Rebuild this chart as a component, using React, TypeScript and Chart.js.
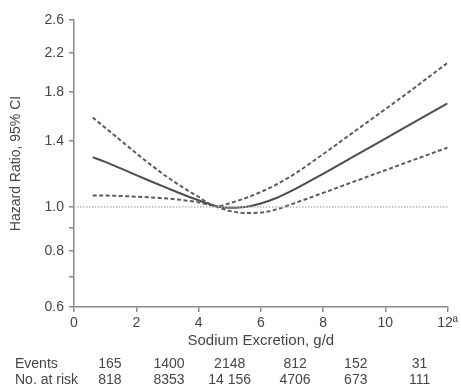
import React, { useEffect, useRef } from "react";
import { Chart, registerables } from "chart.js";

Chart.register(...registerables);

const curveX = [0.6, 1, 1.5, 2, 2.5, 3, 3.5, 4, 4.6, 5, 5.5, 6, 6.5, 7, 8, 9, 10, 11, 12];
const hazardRatio = [1.29, 1.259, 1.218, 1.177, 1.138, 1.101, 1.066, 1.035, 1.003, 0.996, 1.0, 1.018, 1.047, 1.087, 1.185, 1.297, 1.419, 1.553, 1.699];
const upperCI = [1.58, 1.5, 1.405, 1.316, 1.236, 1.165, 1.105, 1.053, 1.003, 1.02, 1.046, 1.08, 1.122, 1.174, 1.31, 1.47, 1.649, 1.853, 2.09];
const lowerCI = [1.06, 1.06, 1.058, 1.054, 1.05, 1.044, 1.036, 1.024, 1.0, 0.98, 0.97, 0.972, 0.988, 1.015, 1.075, 1.139, 1.207, 1.279, 1.355];
const referenceX = [0, 12];
const referenceY = [1, 1];

const yTickValues = [0.6, 0.7, 0.8, 0.9, 1.0, 1.4, 1.8, 2.2, 2.6];
const yTickLabels = ["0.6", "", "0.8", "", "1.0", "1.4", "1.8", "2.2", "2.6"];
const xTickValues = [0, 2, 4, 6, 8, 10, 12];
const xTickLabels = ["0", "2", "4", "6", "8", "10", "12\u00AA"];

const tableColumnX = [1.15, 3.05, 5.0, 7.1, 9.05, 11.1];
const eventsRow = ["165", "1400", "2148", "812", "152", "31"];
const atRiskRow = ["818", "8353", "14 156", "4706", "673", "111"];
const rowLabels = ["Events", "No. at risk"];

const FONT = "'Liberation Sans', Arial, Helvetica, sans-serif";
const TEXT = "#464646";
const AXIS = "#8a8a8a";

const pts = (xs: number[], ys: number[]) => xs.map((x, i) => ({ x, y: ys[i] }));

export default function App() {
  const ref = useRef<HTMLCanvasElement | null>(null);
  useEffect(() => {
    document.body.style.margin = "0";
    const canvas = ref.current!;
    const tablePlugin = {
      id: "riskTable",
      afterDraw(chart: any) {
        const ctx = chart.ctx;
        const xs = chart.scales.x;
        ctx.save();
        ctx.font = `14px ${FONT}`;
        ctx.fillStyle = TEXT;
        ctx.textBaseline = "middle";
        ctx.textAlign = "left";
        ctx.fillText(rowLabels[0], 15, 364);
        ctx.fillText(rowLabels[1], 15, 380);
        ctx.textAlign = "center";
        tableColumnX.forEach((v, i) => {
          const px = xs.getPixelForValue(v);
          ctx.fillText(eventsRow[i], px, 364);
          ctx.fillText(atRiskRow[i], px, 380);
        });
        ctx.restore();
      },
    };
    const chart = new Chart(canvas, {
      type: "line",
      data: {
        datasets: [
          {
            data: pts(referenceX, referenceY),
            borderColor: "#b8b8b8",
            borderWidth: 1.5,
            borderDash: [1.5, 1.5],
            pointRadius: 0,
          },
          {
            data: pts(curveX, upperCI),
            borderColor: "#5c5c5c",
            borderWidth: 2,
            borderDash: [4, 2.5],
            pointRadius: 0,
            cubicInterpolationMode: "monotone",
          },
          {
            data: pts(curveX, lowerCI),
            borderColor: "#5c5c5c",
            borderWidth: 2,
            borderDash: [4, 2.5],
            pointRadius: 0,
            cubicInterpolationMode: "monotone",
          },
          {
            data: pts(curveX, hazardRatio),
            borderColor: "#4d4d4d",
            borderWidth: 2,
            pointRadius: 0,
            cubicInterpolationMode: "monotone",
          },
        ],
      },
      options: {
        animation: false,
        responsive: false,
        devicePixelRatio: 1,
        layout: { padding: { left: 0, top: 20, right: 11, bottom: 37 } },
        plugins: { legend: { display: false }, tooltip: { enabled: false } },
        scales: {
          x: {
            type: "linear",
            min: 0,
            max: 12,
            afterFit: (s: any) => {
              s.height = 43;
            },
            afterBuildTicks: (s: any) => {
              s.ticks = xTickValues.map((v) => ({ value: v }));
            },
            ticks: {
              maxRotation: 0,
              autoSkip: false,
              padding: 3,
              color: TEXT,
              font: { family: FONT, size: 14 },
              callback: (_v: any, i: number) => xTickLabels[i],
            },
            grid: { drawOnChartArea: false, tickLength: 5, color: AXIS, lineWidth: 1.5 },
            border: { color: AXIS, width: 1.5 },
            title: {
              display: true,
              text: "Sodium Excretion, g/d",
              color: TEXT,
              font: { family: FONT, size: 15 },
              padding: { top: 0, bottom: 0 },
            },
          },
          y: {
            type: "logarithmic",
            min: 0.6,
            max: 2.6,
            afterFit: (s: any) => {
              s.width = 74;
            },
            afterBuildTicks: (s: any) => {
              s.ticks = yTickValues.map((v) => ({ value: v }));
            },
            ticks: {
              autoSkip: false,
              padding: 5,
              color: TEXT,
              font: { family: FONT, size: 14 },
              callback: (_v: any, i: number) => yTickLabels[i],
            },
            grid: { drawOnChartArea: false, tickLength: 5, color: AXIS, lineWidth: 1.5 },
            border: { color: AXIS, width: 1.5 },
            title: {
              display: true,
              text: "Hazard Ratio, 95% CI",
              color: TEXT,
              font: { family: FONT, size: 14 },
              padding: { top: 8, bottom: 0 },
            },
          },
        },
      },
      plugins: [tablePlugin],
    });
    return () => chart.destroy();
  }, []);
  return <canvas ref={ref} width={461} height={387} style={{ display: "block" }} />;
}
